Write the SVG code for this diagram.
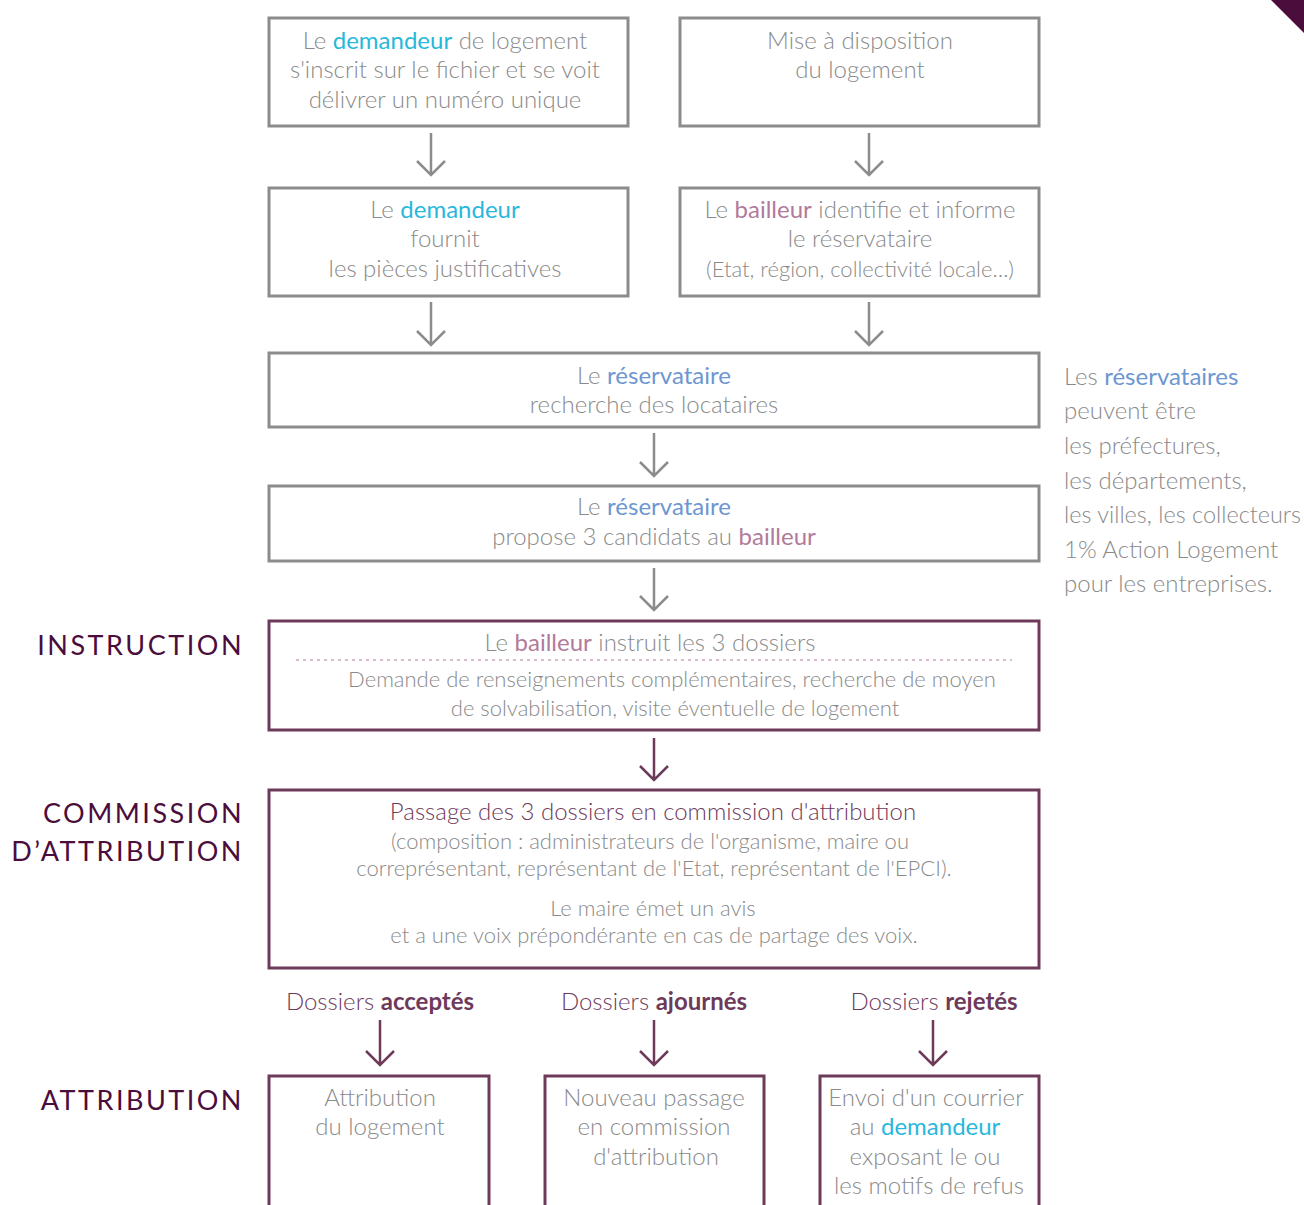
<svg xmlns="http://www.w3.org/2000/svg" width="1304" height="1205" viewBox="0 0 1304 1205">
<defs>
<style>
text{font-family:Lato,"Liberation Sans",sans-serif;font-weight:300;fill:#8a8a8a;font-size:24px}
.c{text-anchor:middle}
.sm{font-size:22px}
.g{fill:none;stroke:#8c8c8e;stroke-width:3}
.p{fill:none;stroke:#6e3a5a;stroke-width:3}
.dem{fill:#29b8dc;font-weight:400}
.bai{fill:#b27a9c;font-weight:400}
.res{fill:#6d96d2;font-weight:400}
.pt{fill:#6e3a5a}
.b{font-weight:700;fill:#6e3a5a}
.lab{fill:#4b0d3c;font-weight:400;font-size:27px;text-anchor:end;letter-spacing:2.5px}
.ag{fill:none;stroke:#8c8c8e;stroke-width:2.5}
.ap{fill:none;stroke:#6e3a5a;stroke-width:2.5}
</style>
</defs>
<rect width="1304" height="1205" fill="#fff"/>
<polygon points="1271,0 1304,0 1304,33" fill="#4b0d3c"/>

<g id="connectors">
<path class="ag" d="M431,133V175M417,161L431,175L445,161"/>
<path class="ag" d="M869,133V175M855,161L869,175L883,161"/>
<path class="ag" d="M431,302V345M417,331L431,345L445,331"/>
<path class="ag" d="M869,302V345M855,331L869,345L883,331"/>
<path class="ag" d="M654,433V476M640,462L654,476L668,462"/>
<path class="ag" d="M654,568V610M640,596L654,610L668,596"/>
<path class="ap" d="M654,738V780M640,766L654,780L668,766"/>
<path class="ap" d="M380,1020V1065M366,1051L380,1065L394,1051"/>
<path class="ap" d="M654,1020V1065M640,1051L654,1065L668,1051"/>
<path class="ap" d="M933,1020V1065M919,1051L933,1065L947,1051"/>
</g>

<g id="n1">
<rect class="g" x="269" y="18" width="359" height="108"/>
<text class="c" x="445" y="49">Le <tspan class="dem">demandeur</tspan> de logement</text>
<text class="c" x="445" y="78">s'inscrit sur le fichier et se voit</text>
<text class="c" x="445" y="108">délivrer un numéro unique</text>
</g>
<g id="n2">
<rect class="g" x="680" y="18" width="359" height="108"/>
<text class="c" x="860" y="49">Mise à disposition</text>
<text class="c" x="860" y="78">du logement</text>
</g>
<g id="n3">
<rect class="g" x="269" y="188" width="359" height="108"/>
<text class="c" x="445" y="218">Le <tspan class="dem">demandeur</tspan></text>
<text class="c" x="445" y="247">fournit</text>
<text class="c" x="445" y="277">les pièces justificatives</text>
</g>
<g id="n4">
<rect class="g" x="680" y="188" width="359" height="108"/>
<text class="c" x="860" y="218">Le <tspan class="bai">bailleur</tspan> identifie et informe</text>
<text class="c" x="860" y="247">le réservataire</text>
<text class="c sm" x="860" y="277">(Etat, région, collectivité locale…)</text>
</g>
<g id="n5">
<rect class="g" x="269" y="353" width="770" height="74"/>
<text class="c" x="654" y="384">Le <tspan class="res">réservataire</tspan></text>
<text class="c" x="654" y="413">recherche des locataires</text>
</g>
<g id="n6">
<rect class="g" x="269" y="486" width="770" height="75"/>
<text class="c" x="654" y="515">Le <tspan class="res">réservataire</tspan></text>
<text class="c" x="654" y="545">propose 3 candidats au <tspan class="bai">bailleur</tspan></text>
</g>
<g id="n7">
<rect class="p" x="269" y="621" width="770" height="109"/>
<text class="c" x="650" y="651">Le <tspan class="bai">bailleur</tspan> instruit les 3 dossiers</text>
<line x1="296" y1="660" x2="1012" y2="660" stroke="#b27a9c" stroke-width="1" stroke-dasharray="3,4"/>
<text class="c sm" x="672" y="687">Demande de renseignements complémentaires, recherche de moyen</text>
<text class="c sm" x="675" y="716">de solvabilisation, visite éventuelle de logement</text>
</g>
<g id="n8">
<rect class="p" x="269" y="790" width="770" height="178"/>
<text class="c pt" x="653" y="820">Passage des 3 dossiers en commission d'attribution</text>
<text class="c sm" x="650" y="849">(composition : administrateurs de l'organisme, maire ou</text>
<text class="c sm" x="654" y="876">correprésentant, représentant de l'Etat, représentant de l'EPCI).</text>
<text class="c sm" x="653" y="916">Le maire émet un avis</text>
<text class="c sm" x="654" y="943">et a une voix prépondérante en cas de partage des voix.</text>
</g>

<g id="labels">
<text class="lab" x="244" y="655">INSTRUCTION</text>
<text class="lab" x="244" y="823">COMMISSION</text>
<text class="lab" x="244" y="861">D’ATTRIBUTION</text>
<text class="lab" x="244" y="1110">ATTRIBUTION</text>
<text class="c pt" x="380" y="1010">Dossiers <tspan class="b">acceptés</tspan></text>
<text class="c pt" x="654" y="1010">Dossiers <tspan class="b">ajournés</tspan></text>
<text class="c pt" x="934" y="1010">Dossiers <tspan class="b">rejetés</tspan></text>
</g>

<g id="n9">
<path class="p" d="M269,1205V1076H489V1205"/>
<text class="c" x="380" y="1106">Attribution</text>
<text class="c" x="380" y="1135">du logement</text>
</g>
<g id="n10">
<path class="p" d="M545,1205V1076H764V1205"/>
<text class="c" x="654" y="1106">Nouveau passage</text>
<text class="c" x="654" y="1135">en commission</text>
<text class="c" x="656" y="1165">d'attribution</text>
</g>
<g id="n11">
<path class="p" d="M820,1205V1076H1039V1205"/>
<text class="c" x="926" y="1106">Envoi d'un courrier</text>
<text class="c" x="925" y="1135">au <tspan class="dem">demandeur</tspan></text>
<text class="c" x="925" y="1165">exposant le ou</text>
<text class="c" x="929" y="1194">les motifs de refus</text>
</g>

<g id="note">
<text x="1064" y="385">Les <tspan class="res">réservataires</tspan></text>
<text x="1064" y="419">peuvent être</text>
<text x="1064" y="454">les préfectures,</text>
<text x="1064" y="489">les départements,</text>
<text x="1064" y="523" textLength="237" lengthAdjust="spacingAndGlyphs">les villes, les collecteurs</text>
<text x="1064" y="558">1% Action Logement</text>
<text x="1064" y="592">pour les entreprises.</text>
</g>
</svg>
